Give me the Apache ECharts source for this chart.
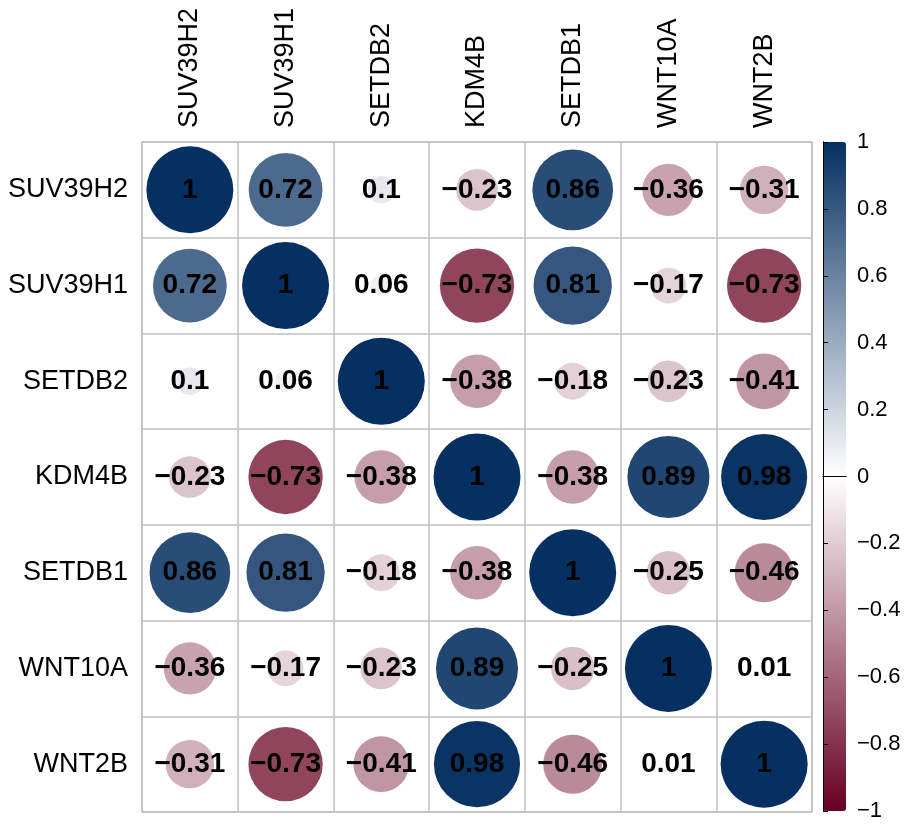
<!DOCTYPE html>
<html>
<head>
<meta charset="utf-8">
<script src="https://cdn.jsdelivr.net/npm/echarts@6/dist/echarts.min.js"></script>
<style>
html,body{margin:0;padding:0;background:#fff;}
#chart{width:904px;height:824px;}
</style>
</head>
<body>
<div id="chart"></div>
<script>
var genes = ['SUV39H2','SUV39H1','SETDB2','KDM4B','SETDB1','WNT10A','WNT2B'];
var rowSUV39H2 = [1, 0.72, 0.1, -0.23, 0.86, -0.36, -0.31];
var rowSUV39H1 = [0.72, 1, 0.06, -0.73, 0.81, -0.17, -0.73];
var rowSETDB2  = [0.1, 0.06, 1, -0.38, -0.18, -0.23, -0.41];
var rowKDM4B   = [-0.23, -0.73, -0.38, 1, -0.38, 0.89, 0.98];
var rowSETDB1  = [0.86, 0.81, -0.18, -0.38, 1, -0.25, -0.46];
var rowWNT10A  = [-0.36, -0.17, -0.23, 0.89, -0.25, 1, 0.01];
var rowWNT2B   = [-0.31, -0.73, -0.41, 0.98, -0.46, 0.01, 1];
var colorbarMin = -1, colorbarMax = 1, colorbarStep = 0.2;
var palette = ['#67001F', '#FFFFFF', '#053061'];

var rows = [rowSUV39H2, rowSUV39H1, rowSETDB2, rowKDM4B, rowSETDB1, rowWNT10A, rowWNT2B];
var data = [];
rows.forEach(function (row, i) {
  row.forEach(function (v, j) { data.push([j, i, v]); });
});
function fmt(v) { return String(v).replace('-', '\u2212'); }

var FONT = "'Liberation Sans', Arial, sans-serif";
var chart = echarts.init(document.getElementById('chart'), null, {renderer: 'canvas'});
var GRID_SIZE = 670;
chart.setOption({
  animation: false,
  backgroundColor: '#ffffff',
  grid: [
    {left: 142, top: 142, width: GRID_SIZE, height: GRID_SIZE, show: true,
     borderColor: '#c0c0c0', borderWidth: 1.5, backgroundColor: 'transparent'},
    {left: 823, top: 142, width: 23, height: 669}
  ],
  xAxis: [
    {type: 'category', data: genes, position: 'top', gridIndex: 0,
     axisLine: {show: false}, axisTick: {show: false},
     splitLine: {show: true, lineStyle: {color: '#c0c0c0', width: 1.5}},
     axisLabel: {rotate: -90, margin: 14, color: '#000', fontSize: 27, fontFamily: FONT}},
    {type: 'value', gridIndex: 1, min: 0, max: 1, position: 'top', z: 6,
     axisLine: {show: true, lineStyle: {color: '#000', width: 1}},
     axisTick: {show: false}, axisLabel: {show: false}, splitLine: {show: false}},
    {type: 'value', gridIndex: 1, min: 0, max: 1, position: 'bottom', z: 6,
     axisLine: {show: true, lineStyle: {color: '#000', width: 1}},
     axisTick: {show: false}, axisLabel: {show: false}, splitLine: {show: false}}
  ],
  yAxis: [
    {type: 'category', data: genes, inverse: true, gridIndex: 0,
     axisLine: {show: false}, axisTick: {show: false},
     splitLine: {show: true, lineStyle: {color: '#c0c0c0', width: 1.5}},
     axisLabel: {margin: 14, color: '#000', fontSize: 27, fontFamily: FONT}},
    {type: 'value', gridIndex: 1, min: colorbarMin, max: colorbarMax, interval: colorbarStep,
     position: 'right', z: 6,
     axisLine: {show: true, lineStyle: {color: '#000', width: 1}},
     axisTick: {show: true, inside: false, length: 5, lineStyle: {color: '#000'}},
     splitLine: {show: false},
     axisLabel: {margin: 11, color: '#000', fontSize: 22, fontFamily: FONT,
       formatter: function (v) { return fmt(Math.round(v * 10) / 10); }}},
    {type: 'value', gridIndex: 1, min: colorbarMin, max: colorbarMax, position: 'left', z: 6,
     axisLine: {show: true, lineStyle: {color: '#000', width: 1}},
     axisTick: {show: false}, axisLabel: {show: false}, splitLine: {show: false}}
  ],
  visualMap: {
    type: 'continuous', min: colorbarMin, max: colorbarMax, dimension: 2, seriesIndex: 0,
    orient: 'vertical', left: 823, top: 142, itemWidth: 23, itemHeight: 669,
    padding: 0, calculable: false, text: null, showLabel: false, z: 1,
    inRange: {color: palette}
  },
  series: [{
    type: 'scatter', xAxisIndex: 0, yAxisIndex: 0, data: data,
    symbol: 'circle',
    symbolSize: function (d) { return 87 * Math.sqrt(Math.abs(d[2])); },
    label: {show: true, position: 'inside', color: '#000', fontSize: 28, fontWeight: 'bold',
      fontFamily: FONT, formatter: function (p) { return fmt(p.value[2]); }},
    itemStyle: {opacity: 1}
  }]
});
</script>
</body>
</html>
